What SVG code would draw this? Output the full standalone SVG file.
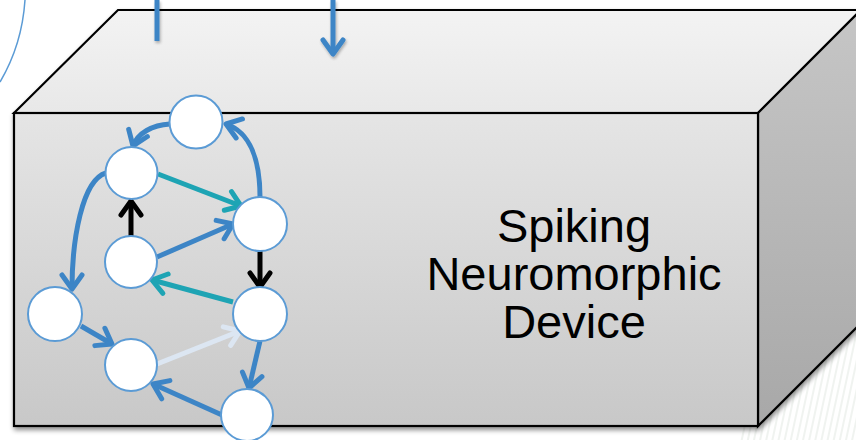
<svg xmlns="http://www.w3.org/2000/svg" width="856" height="440" viewBox="0 0 856 440">
  <defs>
    <linearGradient id="gFront" x1="0" y1="0" x2="0" y2="1">
      <stop offset="0" stop-color="#e5e5e5"/>
      <stop offset="1" stop-color="#c8c8c8"/>
    </linearGradient>
    <linearGradient id="gTop" x1="0" y1="0" x2="0" y2="1">
      <stop offset="0" stop-color="#f3f3f3"/>
      <stop offset="1" stop-color="#e8e8e8"/>
    </linearGradient>
    <linearGradient id="gSide" x1="0" y1="0" x2="0" y2="1">
      <stop offset="0" stop-color="#c6c6c6"/>
      <stop offset="1" stop-color="#a8a8a8"/>
    </linearGradient>
    <filter id="shadow" x="-5%" y="-5%" width="110%" height="115%">
      <feGaussianBlur in="SourceAlpha" stdDeviation="2.5"/>
      <feOffset dx="1" dy="3" result="b"/>
      <feComponentTransfer><feFuncA type="linear" slope="0.45"/></feComponentTransfer>
      <feMerge><feMergeNode/><feMergeNode in="SourceGraphic"/></feMerge>
    </filter>
    <filter id="soft" x="-20%" y="-20%" width="140%" height="140%">
      <feGaussianBlur in="SourceAlpha" stdDeviation="1.5"/>
      <feOffset dx="1" dy="2"/>
      <feComponentTransfer><feFuncA type="linear" slope="0.3"/></feComponentTransfer>
      <feMerge><feMergeNode/><feMergeNode in="SourceGraphic"/></feMerge>
    </filter>
    <pattern id="stripes" width="6" height="40" patternUnits="userSpaceOnUse" patternTransform="rotate(12)">
      <line x1="1" y1="0" x2="1" y2="40" stroke="#e6ebe6" stroke-width="1.5"/>
    </pattern>
    <marker id="hBlue" viewBox="-20 -14 24 28" refX="0" refY="0" markerWidth="24" markerHeight="28" markerUnits="userSpaceOnUse" orient="auto">
      <path d="M-14,-10 L0,0 L-14,10" fill="none" stroke="#3d85c6" stroke-width="5" stroke-linecap="round" stroke-linejoin="round"/>
    </marker>
    <marker id="hTeal" viewBox="-20 -14 24 28" refX="0" refY="0" markerWidth="24" markerHeight="28" markerUnits="userSpaceOnUse" orient="auto">
      <path d="M-14,-10 L0,0 L-14,10" fill="none" stroke="#1ea4b4" stroke-width="5" stroke-linecap="round" stroke-linejoin="round"/>
    </marker>
    <marker id="hLight" viewBox="-20 -14 24 28" refX="0" refY="0" markerWidth="24" markerHeight="28" markerUnits="userSpaceOnUse" orient="auto">
      <path d="M-14,-10 L0,0 L-14,10" fill="none" stroke="#dce6f2" stroke-width="5" stroke-linecap="round" stroke-linejoin="round"/>
    </marker>
    <marker id="hBlack" viewBox="-20 -14 24 28" refX="0" refY="0" markerWidth="24" markerHeight="28" markerUnits="userSpaceOnUse" orient="auto">
      <path d="M-14,-10 L0,0 L-14,10" fill="none" stroke="#000000" stroke-width="5" stroke-linecap="round" stroke-linejoin="round"/>
    </marker>
  </defs>
  <style>
    .face { stroke: #000000; stroke-width: 2.2; stroke-linejoin: miter; }
    .edge { fill: none; stroke-width: 5; stroke-linecap: butt; }
    .blue { stroke: #3d85c6; }
    .teal { stroke: #1ea4b4; }
    .light { stroke: #dce6f2; }
    .black { stroke: #000000; }
    .node circle { fill: #ffffff; stroke: #5b9bd5; stroke-width: 2; }
    .label { font-family: "Liberation Sans", Arial, sans-serif; font-size: 47px; fill: #000000; text-anchor: middle; }
  </style>

  <rect width="856" height="440" fill="#ffffff"/>
  <!-- faint backdrop texture, lower right -->
  <polygon points="738,440 740,428 856,330 856,440" fill="url(#stripes)" opacity="0.8"/>

  <!-- thin arc at the upper left -->
  <path d="M0,82 Q22,45 25,0" fill="none" stroke="#5b9bd5" stroke-width="1.5"/>

  <!-- the device block -->
  <g id="device" filter="url(#shadow)">
    <polygon class="face" points="14,113 118,10 861,10 758,113" fill="url(#gTop)"/>
    <polygon class="face" points="758,113 861,10 861,323 758,426" fill="url(#gSide)"/>
    <rect class="face" x="14" y="113" width="744" height="313" fill="url(#gFront)"/>
  </g>

  <g id="device-label">
    <text class="label" x="574" y="242">Spiking</text>
    <text class="label" x="574" y="290">Neuromorphic</text>
    <text class="label" x="574" y="338">Device</text>
  </g>

  <!-- input and output lines on top -->
  <g id="io" filter="url(#soft)">
    <line class="edge blue" x1="157" y1="0" x2="157" y2="41"/>
    <line class="edge blue" x1="333" y1="0" x2="333" y2="54" marker-end="url(#hBlue)"/>
  </g>

  <!-- synapses -->
  <g id="connectors">
    <path class="edge blue" d="M170,124 C152,125 138,133 133,146" marker-end="url(#hBlue)"/>
    <path class="edge blue" d="M260,197 C260,160 250,132 226,124" marker-end="url(#hBlue)"/>
    <path class="edge teal" d="M158,174 L241,206" marker-end="url(#hTeal)"/>
    <path class="edge black" d="M131,236 L131,201" marker-end="url(#hBlack)"/>
    <path class="edge blue" d="M157,257 L233,224" marker-end="url(#hBlue)"/>
    <path class="edge black" d="M260,251 L260,287" marker-end="url(#hBlack)"/>
    <path class="edge teal" d="M233,302 L152,280" marker-end="url(#hTeal)"/>
    <path class="edge blue" d="M106,173 C82,180 72,240 72,289" marker-end="url(#hBlue)"/>
    <path class="edge blue" d="M81,326 L112,344" marker-end="url(#hBlue)"/>
    <path class="edge light" d="M157,364 L240,331" marker-end="url(#hLight)"/>
    <path class="edge blue" d="M260,341 L249,388" marker-end="url(#hBlue)"/>
    <path class="edge blue" d="M222,415 L153,384" marker-end="url(#hBlue)"/>
  </g>

  <!-- neurons -->
  <g id="n1" class="node"><circle cx="196" cy="122" r="26.5"/></g>
  <g id="n2" class="node"><circle cx="131.5" cy="173" r="26"/></g>
  <g id="n3" class="node"><circle cx="260" cy="224" r="27"/></g>
  <g id="n4" class="node"><circle cx="131" cy="262" r="26"/></g>
  <g id="n5" class="node"><circle cx="55" cy="314" r="27"/></g>
  <g id="n6" class="node"><circle cx="260" cy="314" r="27"/></g>
  <g id="n7" class="node"><circle cx="131" cy="365" r="26"/></g>
  <g id="n8" class="node"><circle cx="247" cy="415" r="26"/></g>
</svg>
